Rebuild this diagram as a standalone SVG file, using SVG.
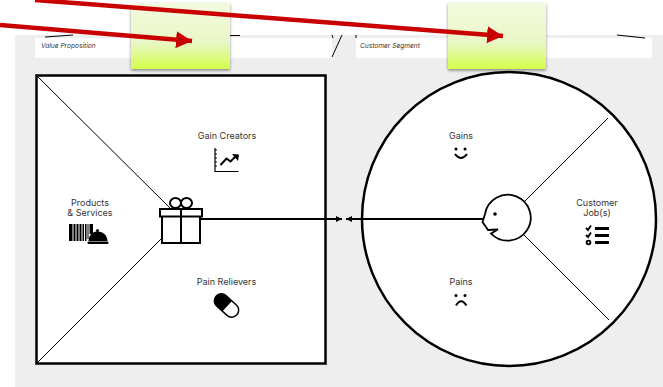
<svg xmlns="http://www.w3.org/2000/svg" width="663" height="387" viewBox="0 0 663 387">
<defs>
<linearGradient id="note" x1="0" y1="0" x2="0" y2="1"><stop offset="0" stop-color="#f3fbe0"/><stop offset="0.6" stop-color="#e9f6c6"/><stop offset="1" stop-color="#d2ff4a"/></linearGradient>
<filter id="sh" x="-20%" y="-20%" width="140%" height="140%"><feDropShadow dx="0" dy="1.5" stdDeviation="1.6" flood-color="#000" flood-opacity="0.45"/></filter>
<marker id="red" markerUnits="userSpaceOnUse" markerWidth="17" markerHeight="17" refX="16" refY="8.500" orient="auto"><path d="M0 0L16 8.500L0 17z" fill="#c80000"/></marker>
<marker id="sm" markerUnits="userSpaceOnUse" markerWidth="7" markerHeight="6" refX="6" refY="3" orient="auto"><path d="M0 0L6 3L0 6z" fill="#000"/></marker>
</defs>
<style>
text{font-family:"Inter","Liberation Sans",sans-serif;fill:#333}
.lab{font-size:9px;text-anchor:middle}
.it{font-size:6.6px;font-style:italic}
.th{fill:none;stroke:#000;stroke-width:1}
.ic{fill:none;stroke:#000;stroke-width:2}
</style>
<rect id="background" x="15" y="35" width="648" height="352" fill="#eeeeee"/>
<g id="value-header"><rect x="35" y="38" width="297" height="20" fill="#fff"/><text class="it" x="41" y="48">Value Proposition</text>
<path d="M45 37L73 35M230 35.500L240 35.500M333 38L332 35" class="th"/></g>
<g id="customer-header"><rect x="356" y="38" width="296" height="20" fill="#fff"/><text class="it" x="360" y="48">Customer Segment</text>
<path d="M356 38V35M617 35L645 38M342 35L332 57" class="th"/></g>
<g id="value-map">
<rect x="36.500" y="75.500" width="289" height="288" fill="#fff" stroke="#000" stroke-width="2.500"/>
<path d="M37 76L170 208M162 238L37 363" class="th"/>
<text class="lab" x="227" y="139">Gain Creators</text>
<path d="M215 148V171.500H238.500" fill="none" stroke="#000" stroke-width="1.200"/><path d="M215 150h2M215 154h2M215 158h2M215 162h2M215 166h2" stroke="#000" stroke-width="1"/>
<path d="M220.500 165L226.500 158.500L230.500 161.500L236 156" class="ic" stroke-width="2.500"/><path d="M232 154L239 154.500L238 161z"/>
<text class="lab" x="90" y="206">Products</text><text class="lab" x="90" y="216">&amp; Services</text>
<path d="M69 224h3.500v17H69zM73.500 224h2v17h-2zM76.500 224h2v17h-2zM79.500 224h2v17h-2zM82.500 224h1.500v17H82.500zM85 224h1.500v17H85zM87.500 224h1v15h-1zM89.500 224h3.500v10h-3.500z"/>
<path d="M88.500 241C89 234 93 231.500 98 231.500C103 231.500 107 235 107.500 241z"/><circle cx="97.500" cy="230.500" r="1.500"/><rect x="87.500" y="241.500" width="21" height="2.500" rx="1"/>
<text class="lab" x="226.500" y="285">Pain Relievers</text>
<g transform="translate(226.500 305.500) rotate(42)"><rect x="-14" y="-7" width="28" height="14" rx="7" fill="#fff" stroke="#000" stroke-width="1.500"/><path d="M1 -7H-7A7 7 0 0 0 -7 7H1z"/></g>
</g>
<g id="customer-profile">
<circle cx="509" cy="219" r="147" fill="#fff" stroke="#000" stroke-width="2.500"/>
<path d="M524 202L608 118M524 235L609 320" class="th"/>
<text class="lab" x="461" y="139">Gains</text>
<circle cx="456" cy="149" r="1.500"/><circle cx="465" cy="149" r="1.500"/><path d="M455 154Q461 162 467 154" class="ic"/>
<text class="lab" x="461" y="285">Pains</text>
<circle cx="456" cy="295.500" r="1.500"/><circle cx="465" cy="295.500" r="1.500"/><path d="M456 305.500Q461 297 466.500 305.500" class="ic"/>
<text class="lab" x="597" y="206">Customer</text><text class="lab" x="597" y="216">Job(s)</text>
<path d="M586 228L588 230L591 225.500M586 235L588 237L591 232.500" fill="none" stroke="#000" stroke-width="1.800"/><circle cx="588.500" cy="242.500" r="1.900" fill="none" stroke="#000" stroke-width="1.800"/>
<path d="M595 228.500H609M595 235.500H609M595 242.500H609" fill="none" stroke="#000" stroke-width="3"/>
</g>
<g id="connectors">
<path d="M200 219H342" fill="none" stroke="#000" stroke-width="2" marker-end="url(#sm)"/>
<path d="M483 219H346" fill="none" stroke="#000" stroke-width="2" marker-end="url(#sm)"/>
</g>
<g id="gift">
<path d="M162 216H200V243H162z" fill="#fff" stroke="#000" stroke-width="2"/>
<rect x="160" y="209" width="42" height="7.500" fill="#fff" stroke="#000" stroke-width="2"/><path d="M181 209V243" stroke="#000" stroke-width="2"/>
<ellipse cx="175.500" cy="203" rx="5.500" ry="5" fill="#fff" stroke="#000" stroke-width="2"/><ellipse cx="186.500" cy="203" rx="5.500" ry="5" fill="#fff" stroke="#000" stroke-width="2"/>
</g>
<g id="face">
<path d="M491 233.500A23 23 0 1 0 485 214L482.500 222L486 227L488 230L498 229.500Z" fill="#fff" stroke="#000" stroke-width="1.800"/>
<circle cx="495" cy="214" r="1.800"/>
</g>
<g id="note-value"><rect x="131" y="3" width="99" height="66" fill="url(#note)" filter="url(#sh)"/></g>
<g id="note-customer"><rect x="448" y="3" width="98" height="66" fill="url(#note)" filter="url(#sh)"/></g>
<g id="red-arrows">
<path d="M0 25L192 41" fill="none" stroke="#c80000" stroke-width="4.500" marker-end="url(#red)"/>
<path d="M35 0L503 36" fill="none" stroke="#c80000" stroke-width="4.500" marker-end="url(#red)"/>
</g>
</svg>
